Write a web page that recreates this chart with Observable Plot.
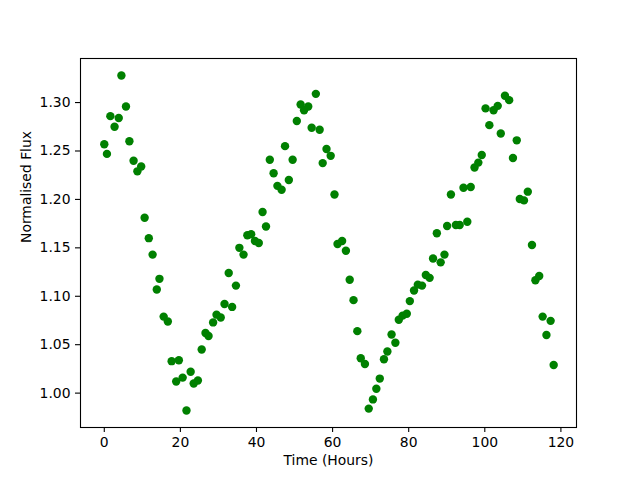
<!DOCTYPE html>
<html>
<head>
<meta charset="utf-8">
<script src="https://cdn.jsdelivr.net/npm/d3@7"></script>
<script src="https://cdn.jsdelivr.net/npm/@observablehq/plot@0.6"></script>
<style>
  html, body { margin: 0; padding: 0; background: #fff; }
</style>
</head>
<body>
<div id="chart"></div>
<script>
const time = [0.0,0.7,1.6,2.7,3.8,4.5,5.7,6.6,7.7,8.7,9.7,10.6,11.7,12.7,13.8,14.5,15.6,16.7,17.7,18.9,19.6,20.6,21.6,22.7,23.5,24.6,25.6,26.6,27.4,28.6,29.5,30.6,31.6,32.7,33.6,34.6,35.5,36.6,37.6,38.6,39.6,40.6,41.6,42.5,43.5,44.5,45.5,46.6,47.5,48.5,49.5,50.6,51.6,52.5,53.6,54.5,55.6,56.6,57.4,58.4,59.5,60.5,61.3,62.5,63.5,64.5,65.5,66.5,67.4,68.5,69.5,70.6,71.5,72.4,73.5,74.4,75.5,76.5,77.4,78.4,79.5,80.3,81.4,82.4,83.5,84.5,85.5,86.4,87.4,88.4,89.4,90.1,91.1,92.4,93.4,94.4,95.4,96.3,97.3,98.3,99.2,100.2,101.2,102.3,103.4,104.2,105.3,106.4,107.4,108.4,109.2,110.3,111.3,112.4,113.3,114.3,115.2,116.2,117.3,118.1];
const flux = [1.257,1.247,1.286,1.275,1.284,1.328,1.296,1.260,1.240,1.229,1.234,1.181,1.160,1.143,1.107,1.118,1.079,1.074,1.033,1.012,1.034,1.016,0.982,1.022,1.010,1.013,1.045,1.062,1.059,1.073,1.081,1.078,1.092,1.124,1.089,1.111,1.150,1.143,1.163,1.164,1.157,1.155,1.187,1.172,1.241,1.227,1.214,1.210,1.255,1.220,1.241,1.281,1.298,1.292,1.296,1.274,1.309,1.272,1.2375,1.252,1.245,1.205,1.154,1.157,1.147,1.117,1.096,1.064,1.036,1.030,0.984,0.9935,1.0045,1.015,1.035,1.043,1.0605,1.052,1.0757,1.080,1.082,1.095,1.106,1.112,1.111,1.122,1.119,1.139,1.165,1.135,1.143,1.1725,1.205,1.1736,1.1736,1.212,1.177,1.2128,1.233,1.238,1.2458,1.294,1.2767,1.292,1.2966,1.268,1.307,1.3025,1.2427,1.261,1.2004,1.199,1.208,1.153,1.1165,1.121,1.079,1.060,1.0746,1.029];
const xTicks = [0,20,40,60,80,100,120];
const yTicks = [1.00,1.05,1.10,1.15,1.20,1.25,1.30];
const xLabel = "Time (Hours)";
const yLabel = "Normalised Flux";

const data = time.map((t, i) => ({t, f: flux[i]}));

const chart = Plot.plot({
  width: 640,
  height: 480,
  marginLeft: 80,
  marginRight: 64,
  marginTop: 58,
  marginBottom: 53,
  style: {fontFamily: "DejaVu Sans", fontSize: "13.9px", color: "black", background: "white"},
  x: {domain: [-6.25, 124.1]},
  y: {domain: [0.9645, 1.3455]},
  marks: [
    Plot.axisX({ticks: xTicks, tickSize: 5, tickPadding: 5, tickFormat: d3.format("d"), label: null, strokeWidth: 1.1}),
    Plot.axisY({ticks: yTicks, tickSize: 5, tickPadding: 5, tickFormat: d3.format(".2f"), label: null, strokeWidth: 1.1}),
    Plot.dot(data, {x: "t", y: "f", r: 4.2, fill: "green", stroke: "none"}),
    Plot.frame({stroke: "black", strokeWidth: 1.1}),
    Plot.text([xLabel], {frameAnchor: "bottom", dy: 37, text: d => d, fontSize: 13.9}),
    Plot.text([yLabel], {frameAnchor: "left", dx: -54, rotate: -90, text: d => d, fontSize: 13.9})
  ]
});
document.getElementById("chart").appendChild(chart);
</script>
</body>
</html>
